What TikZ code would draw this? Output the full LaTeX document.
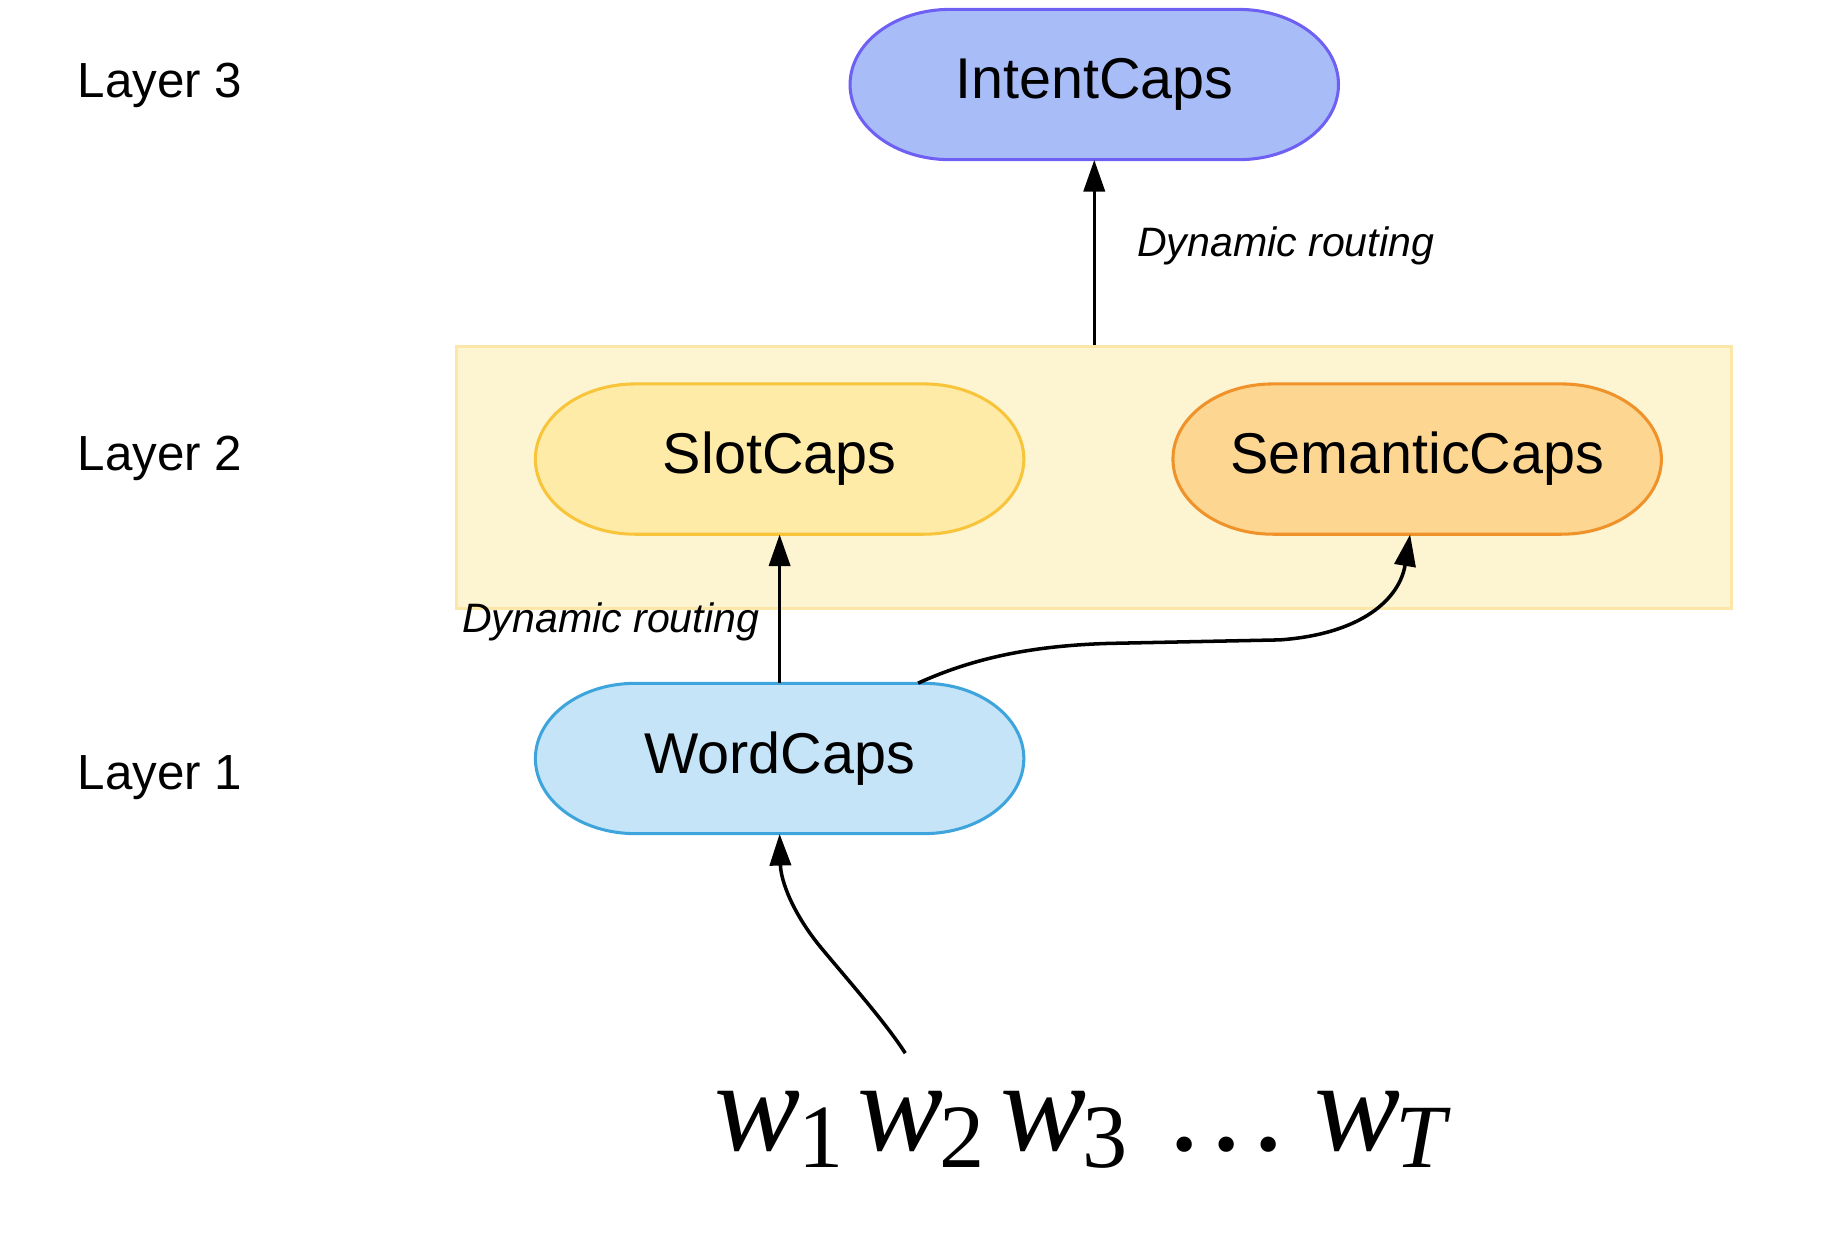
\documentclass[tikz,border=0pt]{standalone}
\usepackage{fontspec}
\setmainfont{Liberation Sans}
\newfontfamily\tms{Liberation Serif}
\usetikzlibrary{arrows.meta}
\definecolor{intentfill}{HTML}{A8BCF8}
\definecolor{intentdraw}{HTML}{6E60F2}
\definecolor{slotfill}{HTML}{FFEBA8}
\definecolor{slotdraw}{HTML}{F8C53A}
\definecolor{semfill}{HTML}{FDD692}
\definecolor{semdraw}{HTML}{EF9229}
\definecolor{wordfill}{HTML}{C6E4F8}
\definecolor{worddraw}{HTML}{3EA4DC}
\definecolor{bgfill}{HTML}{FDF4D2}
\definecolor{bgdraw}{HTML}{FCE7A8}
\tikzset{
  capnode/.style={minimum width=416pt, minimum height=128pt, inner sep=0pt, font=\fontsize{49}{58}\selectfont},
  layerlbl/.style={anchor=base west, inner sep=0pt, font=\fontsize{42}{50}\selectfont},
  routelbl/.style={inner sep=0pt, font=\itshape\fontsize{35}{42}\selectfont},
  arr/.style={line width=3pt, -{Triangle[length=27pt,width=18pt]}},
  bgbox/.style={minimum width=1086pt, minimum height=223pt, inner sep=0pt, fill=bgfill, draw=bgdraw, line width=2.5pt}
}
\newcommand\capsule[5]{%
  \path[fill=#4, draw=#5, line width=2.6pt]
    ({#2-123},{#3-64}) -- ({#2+123},{#3-64})
    arc[start angle=-90, end angle=90, x radius=85, y radius=64]
    -- ({#2-123},{#3+64})
    arc[start angle=90, end angle=270, x radius=85, y radius=64] -- cycle;
  \node[capnode] (#1) at (#2,#3) {};}
\newcommand\wpos[2]{\rlap{\kern#1pt #2}}
\newcommand\wsub[1]{\raisebox{-14pt}{\fontsize{77}{77}\selectfont #1}}
\begin{document}
\begin{tikzpicture}[x=1pt,y=-1pt]
\useasboundingbox (0,0) rectangle (1568,1054.4);
% background box of layer 2
\node[bgbox] (bg) at (932,406.5) {};
% capsules
\capsule{intent}{932}{72}{intentfill}{intentdraw}
\capsule{slot}{664}{391}{slotfill}{slotdraw}
\capsule{sem}{1207}{391}{semfill}{semdraw}
\capsule{word}{664}{646}{wordfill}{worddraw}
\node[capnode] at (intent) {IntentCaps};
\node[capnode] at (slot) {SlotCaps};
\node[capnode] at (sem) {SemanticCaps};
\node[capnode] at (word) {WordCaps};
% layer labels
\node[layerlbl] (l3) at (66,83) {Layer 3};
\node[layerlbl] (l2) at (66,401) {Layer 2};
\node[layerlbl] (l1) at (66,672) {Layer 1};
% input words
\node[anchor=base west, inner sep=0pt] (inp) at (608,980) {\tms\fontsize{110}{110}\selectfont
  \wpos{0}{\itshape w}\wpos{72}{\wsub{1}}%
  \wpos{122}{\itshape w}\wpos{192}{\wsub{2}}%
  \wpos{244}{\itshape w}\wpos{314}{\wsub{3}}%
  \wpos{387}{.}\wpos{423}{.}\wpos{459}{.}%
  \wpos{511}{\itshape w}\wpos{580}{\wsub{\itshape T}}\kern630pt};
\coordinate (src) at (771,897);
% connectors
\draw[arr] (bg.north) -- (intent.south)
  node[routelbl, pos=0.535, anchor=west, xshift=35pt] (dr1) {Dynamic routing};
\draw[arr] (word.north) -- (slot.south)
  node[routelbl, pos=0.41, anchor=east, xshift=-16pt] (dr2) {Dynamic routing};
\draw[arr] ([xshift=118pt]word.north) .. controls (830,560) and (880,550) .. (944,548)
  -- (1090,545) .. controls (1160,540) and (1192,510) .. ([xshift=-6pt]sem.south);
\draw[arr] (src) .. controls (755,872) and (725,838) .. (700,808)
  .. controls (675,778) and (665,750) .. (word.south);
\end{tikzpicture}
\end{document}
